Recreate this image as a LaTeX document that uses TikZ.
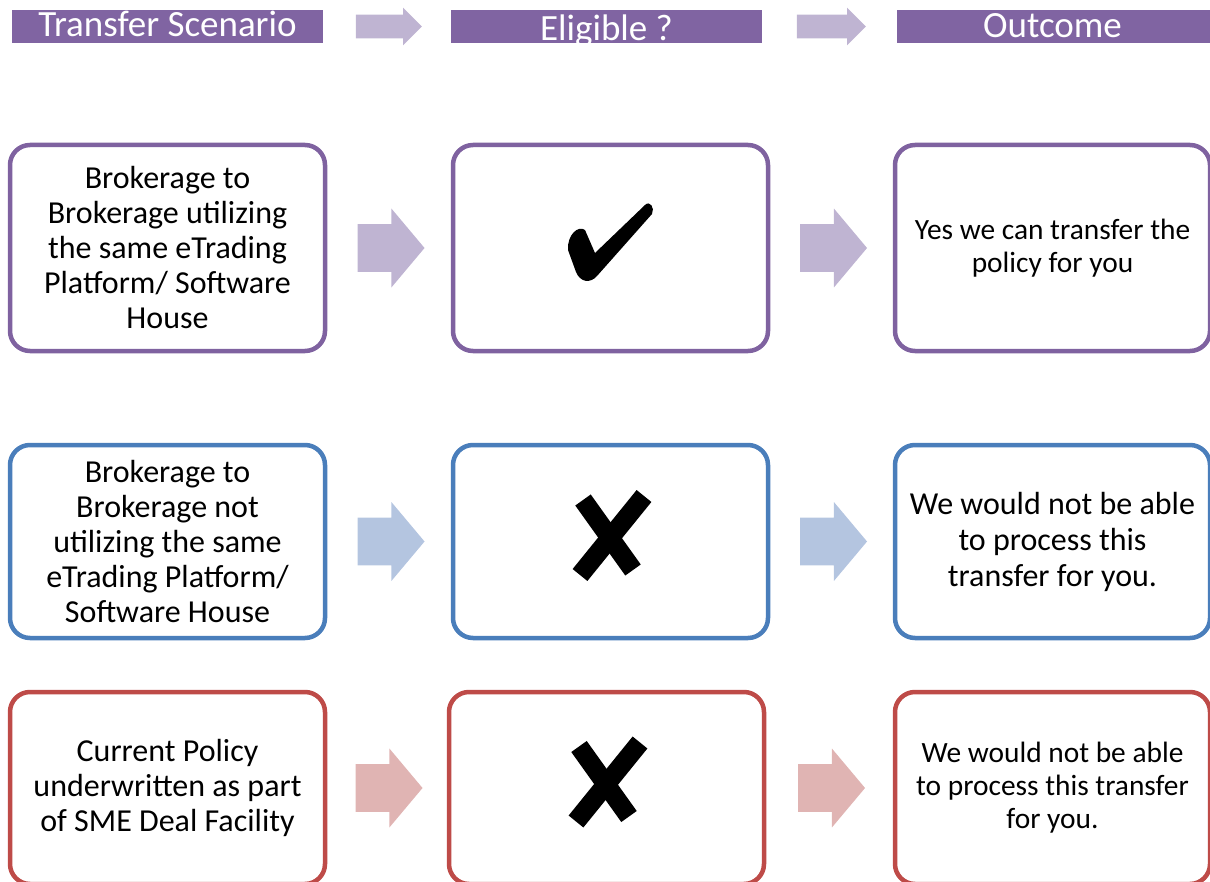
\documentclass[tikz,border=0pt]{standalone}
\usepackage{fontspec}
\setmainfont{Carlito}
\usetikzlibrary{shapes.arrows,calc}
\definecolor{hdrpurple}{HTML}{8064A2}
\definecolor{boxpurple}{HTML}{7F62A0}
\definecolor{arrpurple}{HTML}{BFB4D2}
\definecolor{boxblue}{HTML}{4A7EBB}
\definecolor{arrblue}{HTML}{B4C5E0}
\definecolor{boxred}{HTML}{BE4B48}
\definecolor{arrred}{HTML}{E0B4B3}
\tikzset{
  hdrbar/.style={fill=hdrpurple,minimum width=155.5pt,minimum height=16.5pt,inner sep=0pt},
  hdrtext/.style={text=white,font=\fontsize{18.5}{20}\selectfont,inner sep=0pt,anchor=base},
  hdrarrow/.style={single arrow,fill=arrpurple,inner xsep=0pt,inner ysep=5.75pt,minimum height=33pt,single arrow head extend=3.5pt,single arrow tip angle=90,xshift=-2pt},
  stepbox/.style={draw=#1,line width=2.25pt,rounded corners=10pt,fill=white,minimum width=157.5pt,align=center,inner sep=0pt},
  flowarrow/.style={single arrow,fill=#1,inner xsep=0pt,inner ysep=11.75pt,minimum height=33.5pt,single arrow head extend=7.75pt,single arrow tip angle=100,xshift=-4pt},
  bigtext/.style={font=\fontsize{16}{17.5}\selectfont},
  smalltext/.style={font=\fontsize{14.7}{16.5}\selectfont}
}
\newcommand{\crossmark}[1]{%
  \draw[line width=9.5pt,shift={(#1)}] (-27.5,-41.5) -- (22.5,28.5);
  \draw[line width=9.5pt,shift={(#1)}] (33.5,-45.5) -- (-30.5,33.5);}

\begin{document}
\begin{tikzpicture}[x=0.5pt,y=-0.5pt]
\useasboundingbox (0,0) rectangle (1210,882);

\node[hdrbar] (hscen) at (167.5,26.5) {};
\node[hdrbar] (helig) at (606.5,26.5) {};
\node[hdrbar,minimum width=156.5pt] (hout) at (1053.5,26.5) {};
\node[hdrtext] (tscen) at (167.5,37) {Transfer Scenario};
\node[hdrtext] (telig) at (606.5,41) {Eligible ?};
\node[hdrtext] (tout) at (1052.5,37.5) {Outcome};
\node[hdrarrow] (harr1) at ($(hscen.east)!0.5!(helig.west)$) {};
\node[hdrarrow,minimum height=34.5pt] (harr2) at ($(helig.east)!0.5!(hout.west)$) {};

\node[stepbox=boxpurple,minimum height=103pt,bigtext] (scen1) at (167.5,248)
  {Brokerage to\\Brokerage utilizing\\the same eTrading\\Platform/ Software\\House};
\node[stepbox=boxpurple,minimum height=103pt] (elig1) at (610.5,248) {};
\node[stepbox=boxpurple,minimum height=103pt,smalltext] (out1) at (1052.5,248)
  {Yes we can transfer the\\policy for you};
\node[flowarrow=arrpurple] (arr11) at ($(scen1.east)!0.5!(elig1.west)$) {};
\node[flowarrow=arrpurple] (arr12) at ($(elig1.east)!0.5!(out1.west)$) {};

\node[stepbox=boxblue,minimum height=96.5pt,bigtext] (scen2) at (167.5,541.5)
  {Brokerage to\\Brokerage not\\utilizing the same\\eTrading Platform/\\Software House};
\node[stepbox=boxblue,minimum height=96.5pt] (elig2) at (610.5,541.5) {};
\node[stepbox=boxblue,minimum height=96.5pt,font=\fontsize{16}{18}\selectfont] (out2) at (1052.5,541.5)
  {We would not be able\\to process this\\transfer for you.};
\node[flowarrow=arrblue] (arr21) at ($(scen2.east)!0.5!(elig2.west)$) {};
\node[flowarrow=arrblue] (arr22) at ($(elig2.east)!0.5!(out2.west)$) {};

\node[stepbox=boxred,minimum height=96pt,bigtext] (scen3) at (167.5,788)
  {Current Policy\\underwritten as part\\of SME Deal Facility};
\node[stepbox=boxred,minimum height=96pt] (elig3) at (606.5,788) {};
\node[stepbox=boxred,minimum height=96pt,smalltext] (out3) at (1052.5,788)
  {We would not be able\\to process this transfer\\for you.};
\node[flowarrow=arrred] (arr31) at ($(scen3.east)!0.5!(elig3.west)$) {};
\node[flowarrow=arrred] (arr32) at ($(elig3.east)!0.5!(out3.west)$) {};

\fill[shift={(elig1.center)}] (-42.5,2) .. controls (-43.5,-13) and (-32.5,-23) .. (-25.5,-18)
  -- (-15.5,5) -- (34.5,-43) .. controls (39.5,-48) and (44.5,-40) .. (41.5,-34)
  -- (-13.5,28) .. controls (-20.5,36) and (-30.5,34) .. (-34.5,24) -- cycle;
\crossmark{elig2}
\crossmark{elig3}
\end{tikzpicture}
\end{document}
